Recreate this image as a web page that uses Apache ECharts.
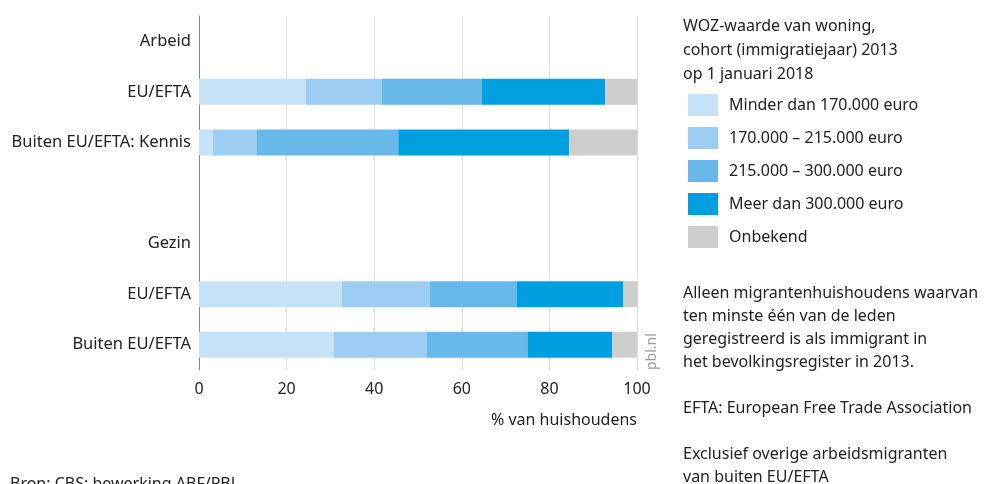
<!DOCTYPE html>
<html><head><meta charset="utf-8">
<script src="https://cdn.jsdelivr.net/npm/echarts@6/dist/echarts.min.js"></script>
<style>html,body{margin:0;padding:0;background:#fff}#c{width:984px;height:484px}</style>
</head><body><div id="c"></div>
<script>
const categories = ['Arbeid', 'EU/EFTA', 'Buiten EU/EFTA: Kennis', '', 'Gezin', 'EU/EFTA', 'Buiten EU/EFTA'];
const seriesNames = ['Minder dan 170.000 euro', '170.000 – 215.000 euro', '215.000 – 300.000 euro', 'Meer dan 300.000 euro', 'Onbekend'];
const minder170 = [null, 24.4, 3.1, null, null, 32.6, 30.8];
const r170_215  = [null, 17.3, 10.0, null, null, 20.1, 21.2];
const r215_300  = [null, 22.8, 32.4, null, null, 19.8, 23.0];
const meer300   = [null, 28.2, 39.0, null, null, 24.4, 19.3];
const onbekend  = [null, 7.3, 15.5, null, null, 3.1, 5.7];
const xTicks = [0, 20, 40, 60, 80, 100];
const colors = ['#c6e2f7', '#9dcdf2', '#68b8ea', '#009fe0', '#cdcecd'];
const values = [minder170, r170_215, r215_300, meer300, onbekend];
const FONT = 'Noto Sans';

const chart = echarts.init(document.getElementById('c'), null, {renderer: 'canvas'});
chart.setOption({
  animation: false,
  textStyle: {fontFamily: FONT},
  grid: {left: 199, right: 347, top: 16, bottom: 114, containLabel: false},
  xAxis: {
    type: 'value', min: 0, max: 100, interval: 20,
    axisLine: {show: false}, axisTick: {show: false},
    splitLine: {show: true, lineStyle: {color: '#dcdcdc', width: 1}},
    axisLabel: {color: '#222', fontSize: 16, margin: 11, fontFamily: FONT,
      formatter: v => xTicks.includes(v) ? String(v) : ''},
    name: '% van huishoudens', nameLocation: 'end', nameGap: 0,
    nameTextStyle: {color: '#222', fontSize: 16, fontFamily: FONT, align: 'right', verticalAlign: 'top', padding: [42, 0, 0, 0]}
  },
  yAxis: {
    type: 'category', inverse: true,
    data: categories.map((c, i) => ({value: 'c' + i, label: c})),
    axisLine: {show: true, lineStyle: {color: '#888', width: 1}},
    axisTick: {show: false},
    axisLabel: {color: '#222', fontSize: 16.5, margin: 8, fontFamily: FONT,
      formatter: (v, i) => categories[i]}
  },
  legend: {
    orient: 'vertical', left: 683, top: 89, itemWidth: 30, itemHeight: 22, itemGap: 11,
    icon: 'rect', selectedMode: false,
    textStyle: {color: '#222', fontSize: 16, fontFamily: FONT, padding: [0, 0, 0, 6]},
    data: seriesNames
  },
  series: seriesNames.map((n, k) => ({
    name: n, type: 'bar', stack: 'tot', barWidth: 26,
    itemStyle: {color: colors[k]},
    data: values[k]
  })),
  graphic: [
    {type: 'text', left: 683, top: 14, style: {text: 'WOZ-waarde van woning,\ncohort (immigratiejaar) 2013\nop 1 januari 2018', fill: '#222', font: '16px "Noto Sans"', lineHeight: 24}},
    {type: 'text', left: 683, top: 282, style: {text: 'Alleen migrantenhuishoudens waarvan\nten minste één van de leden\ngeregistreerd is als immigrant in\nhet bevolkingsregister in 2013.\n\nEFTA: European Free Trade Association\n\nExclusief overige arbeidsmigranten\nvan buiten EU/EFTA', fill: '#222', font: '16px "Noto Sans"', lineHeight: 23}},
    {type: 'text', left: 10, top: 476, style: {text: 'Bron: CBS; bewerking ABF/PBL', fill: '#222', font: '16px "Noto Sans"'}},
    {type: 'text', x: 659, y: 370, rotation: Math.PI / 2, style: {text: 'pbl.nl', fill: '#999', font: '14px "Noto Sans"', align: 'left', verticalAlign: 'bottom'}}
  ]
});
</script></body></html>
